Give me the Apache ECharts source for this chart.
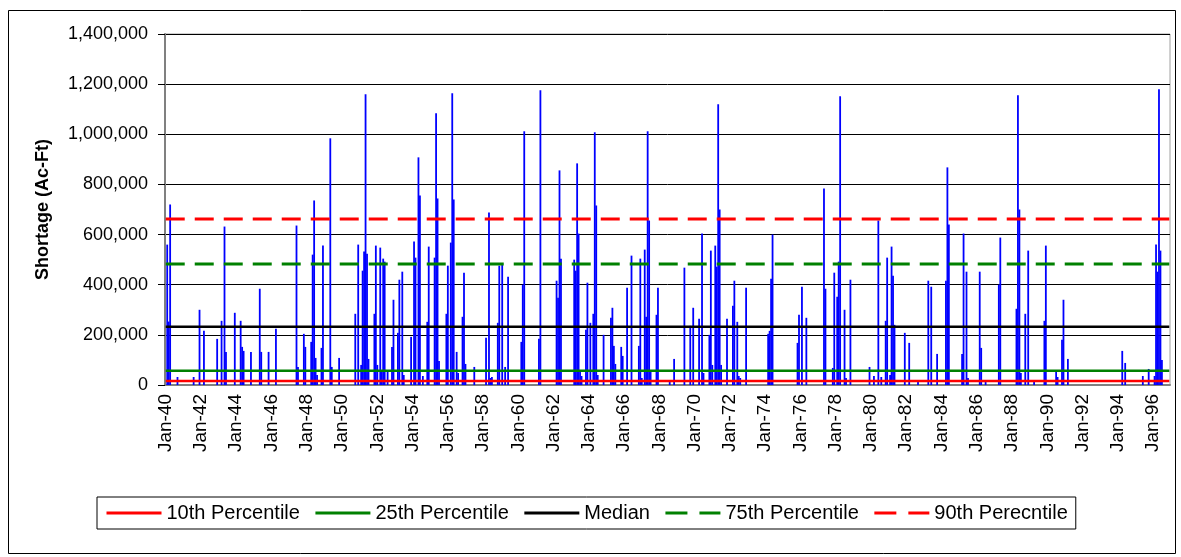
<!DOCTYPE html>
<html>
<head>
<meta charset="utf-8">
<script src="https://cdn.jsdelivr.net/npm/echarts@6/dist/echarts.min.js"></script>
<style>
  html, body { margin: 0; padding: 0; background: #fff; }
  #chart1 { width: 1181px; height: 557px; }
</style>
</head>
<body>
<div id="chart1"></div>
<script>
// monthly series, Jan-1940 .. Dec-1996
const monthNames = ['Jan', 'Feb', 'Mar', 'Apr', 'May', 'Jun', 'Jul', 'Aug', 'Sep', 'Oct', 'Nov', 'Dec'];
const firstYear = 1940;
const lastYear = 1996;

// months with a shortage (index counted from Jan-40) and their values (Ac-Ft)
const shortageMonth = [
    1, 2, 3, 8, 19, 23, 26, 35, 38, 40, 41, 47, 51, 52, 53, 58, 64, 65, 70, 75,
    89, 90, 94, 95, 99, 100, 101, 102, 103, 106, 107, 112, 113,
    118, 129, 131, 133, 134, 135, 136, 137, 138, 142, 143, 144, 146, 147, 148, 149, 151,
    154, 155, 158, 159, 161, 162, 167, 169, 170, 172, 173, 175, 178, 179, 183, 184, 185, 186,
    191, 192, 194, 195, 196, 198, 199, 202, 203, 204, 210, 218, 220, 221, 222, 226, 227, 229,
    231, 233, 242, 243, 244, 254, 255, 266, 267, 268, 269, 278, 279, 280, 281, 282, 283,
    286, 287, 289, 291, 292, 293, 294, 298, 303, 304, 305, 306, 310, 311, 314, 317,
    322, 323, 324, 326, 327, 328, 329, 330, 334, 335, 343,
    346, 353, 357, 359, 363, 365, 366, 370, 371, 372, 374, 375, 376, 377, 378, 382,
    386, 387, 389, 390, 391, 395, 410, 411, 412, 413, 430, 431, 433, 436,
    448, 449, 454, 455, 457, 458, 459,
    462, 463, 466, 479, 482, 485, 487, 490, 491, 493, 494, 495, 496, 503, 506, 512,
    519, 521, 525, 531, 532, 533, 542, 543, 545, 546, 554, 555, 558, 567, 568,
    579, 580, 581, 582, 585, 587, 591, 598, 599, 606, 607, 610, 611, 614,
    651, 653, 665, 669, 673, 674, 675, 676, 677, 678
];
const shortageValue = [
    560000, 253000, 720000, 32000, 32000, 300000, 216000, 184000, 256000, 632000, 132000, 288000, 256000, 152000, 136000, 132000, 384000, 132000, 132000, 224000,
    636000, 72000, 204000, 152000, 172000, 520000, 736000, 108000, 40000, 148000, 556000, 984000, 72000,
    108000, 284000, 560000, 80000, 456000, 532000, 1160000, 524000, 104000, 284000, 556000, 80000, 548000, 52000, 504000, 492000, 52000,
    152000, 340000, 208000, 420000, 452000, 40000, 192000, 572000, 508000, 908000, 756000, 36000, 252000, 552000, 508000, 1084000, 744000, 96000,
    284000, 476000, 568000, 1164000, 740000, 132000, 48000, 272000, 448000, 84000, 72000, 188000, 688000, 28000, 32000, 248000, 476000, 484000,
    72000, 432000, 172000, 400000, 1012000, 184000, 1176000, 416000, 348000, 856000, 504000, 500000, 456000, 884000, 604000, 52000, 36000,
    220000, 408000, 248000, 284000, 1008000, 716000, 40000, 200000, 268000, 308000, 156000, 84000, 152000, 116000, 388000, 516000,
    156000, 504000, 28000, 540000, 272000, 1012000, 656000, 52000, 280000, 388000, 20000,
    104000, 468000, 236000, 308000, 264000, 604000, 48000, 200000, 536000, 80000, 556000, 472000, 1120000, 700000, 80000, 264000,
    316000, 416000, 252000, 36000, 28000, 388000, 204000, 216000, 424000, 600000, 168000, 280000, 392000, 268000,
    784000, 384000, 68000, 448000, 352000, 492000, 1152000,
    300000, 28000, 420000, 72000, 36000, 656000, 32000, 256000, 508000, 40000, 552000, 436000, 240000, 208000, 168000, 20000,
    416000, 392000, 124000, 416000, 868000, 640000, 124000, 604000, 452000, 28000, 452000, 148000, 20000, 400000, 588000,
    304000, 1156000, 700000, 48000, 284000, 536000, 16000, 256000, 556000, 52000, 32000, 180000, 340000, 104000,
    136000, 88000, 36000, 64000, 36000, 560000, 452000, 1180000, 536000, 100000
];

// horizontal reference levels
const percentileNames = ['10th Percentile', '25th Percentile', 'Median', '75th Percentile', '90th Perecntile'];
const percentileValues = [16000, 57000, 232000, 483000, 662000];
const percentileColors = ['#ff0000', '#008000', '#000000', '#008000', '#ff0000'];
const percentileDashed = [false, false, false, true, true];

const categories = [];
for (let y = firstYear; y <= lastYear; y++) {
    monthNames.forEach(m => categories.push(m + '-' + String(y % 100).padStart(2, '0')));
}
const shortage = categories.map(() => 0);
shortageMonth.forEach((m, i) => { shortage[m] = shortageValue[i]; });

const font = 'Arial, "Liberation Sans", sans-serif';
const chart = echarts.init(document.getElementById('chart1'));

const lineSeries = percentileNames.map((name, i) => ({
    name: name,
    type: 'line',
    data: categories.map(() => percentileValues[i]),
    symbol: 'none',
    silent: true,
    z: 5,
    itemStyle: { color: percentileColors[i] },
    lineStyle: {
        color: percentileColors[i],
        width: percentileDashed[i] ? 3 : 2.5,
        type: percentileDashed[i] ? [19, 10] : 'solid'
    }
}));

const option = {
    animation: false,
    backgroundColor: '#fff',
    graphic: [{
        type: 'rect',
        shape: { x: 8.5, y: 10.5, width: 1167, height: 543 },
        style: { fill: 'none', stroke: '#000', lineWidth: 1 },
        silent: true
    }],
    grid: {
        left: 165, top: 34, right: 11, bottom: 172,
        show: true, borderColor: '#a0a0a0', borderWidth: 1
    },
    legend: {
        data: percentileNames.map((n, i) => ({
            name: n,
            itemStyle: { opacity: 0 },
            lineStyle: {
                color: percentileColors[i],
                width: 3,
                type: percentileDashed[i] ? [22, 12] : 'solid'
            }
        })),
        left: 97,
        top: 497,
        padding: [6, 8],
        itemWidth: 55,
        itemHeight: 14,
        itemGap: 14,
        borderColor: '#000',
        borderWidth: 1,
        textStyle: { fontFamily: font, fontSize: 20, color: '#000' }
    },
    xAxis: {
        type: 'category',
        data: categories,
        boundaryGap: true,
        axisLine: { lineStyle: { color: '#808080', width: 2 } },
        axisTick: { interval: 23, length: 6, lineStyle: { color: '#000' } },
        axisLabel: {
            interval: 23,
            rotate: 90,
            margin: 9,
            fontFamily: font,
            fontSize: 19,
            color: '#000'
        },
        splitLine: { show: false }
    },
    yAxis: {
        type: 'value',
        min: 0,
        max: 1400000,
        interval: 200000,
        name: 'Shortage (Ac-Ft)',
        nameLocation: 'middle',
        nameGap: 113,
        nameTextStyle: { fontFamily: font, fontSize: 18, fontWeight: 'bold', color: '#000' },
        axisLine: { show: true, lineStyle: { color: '#808080', width: 2 } },
        axisTick: { show: true, length: 7, lineStyle: { color: '#000' } },
        axisLabel: {
            margin: 17,
            fontFamily: font,
            fontSize: 18,
            color: '#000',
            formatter: v => v.toLocaleString('en-US')
        },
        splitLine: { lineStyle: { color: '#000', width: 1 } }
    },
    series: [{
        name: 'Shortage',
        type: 'bar',
        data: shortage,
        barWidth: 1.8,
        silent: true,
        itemStyle: { color: '#0000ff' }
    }].concat(lineSeries)
};

chart.setOption(option);
window.addEventListener('resize', function () { chart.resize(); });
</script>
</body>
</html>
